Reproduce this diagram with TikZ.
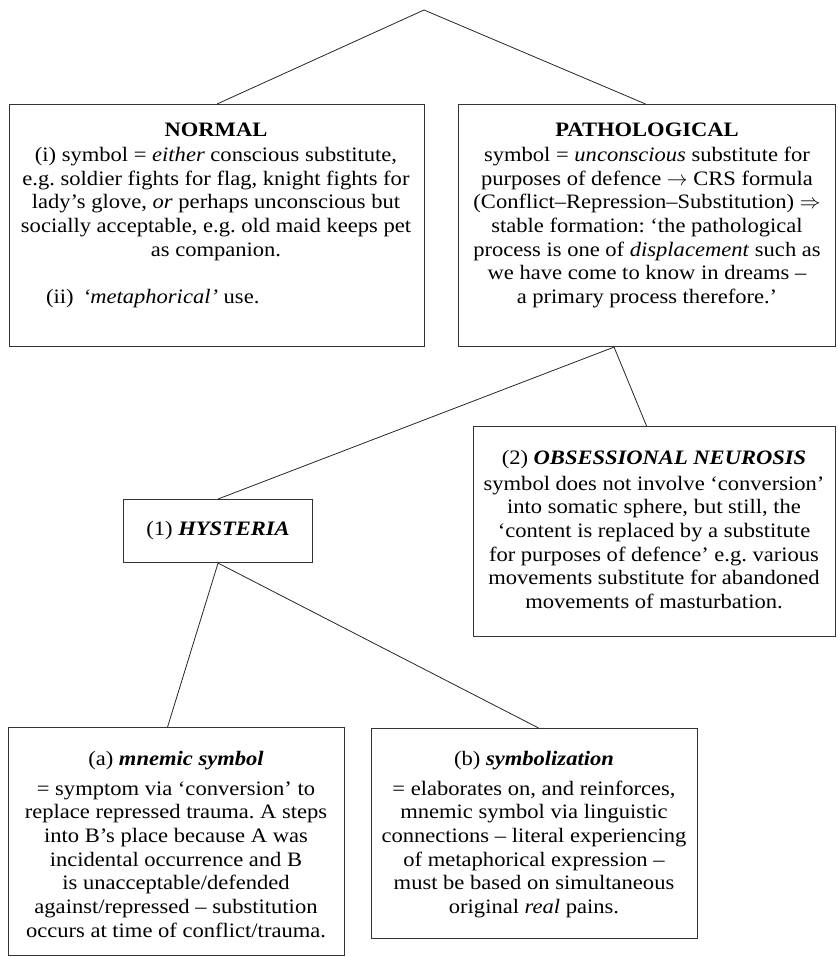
\documentclass[tikz,border=0pt]{standalone}
\usepackage{fontspec}
\setmainfont{Liberation Serif}[FakeStretch=1.1]
\frenchspacing
\begin{document}
\begin{tikzpicture}[x=1pt,y=-1pt,
  box/.style={draw=black!80, line width=1.1pt, inner sep=0pt, anchor=north west},
  link/.style={draw=black!85, line width=0.8pt},
  txt/.style={font=\fontsize{20.5}{23.7}\selectfont, align=center, inner sep=0pt, anchor=north}]
\useasboundingbox (0,0) rectangle (837,957);
% boxes
\node[box, minimum width=415, minimum height=242] (normal) at (9,104) {};
\node[box, minimum width=377, minimum height=242] (patho) at (458,104) {};
\node[box, minimum width=189, minimum height=63] (hyst) at (123,499) {};
\node[box, minimum width=362, minimum height=210] (obs) at (473,426) {};
\node[box, minimum width=336, minimum height=228] (mnem) at (8,727) {};
\node[box, minimum width=326, minimum height=210] (symb) at (371,728) {};
% texts
\node[txt] (normaltxt) at (216,123) {\textbf{NORMAL}\\[1pt]
(i) symbol = \emph{either} conscious substitute,\\
e.g. soldier fights for flag, knight fights for\\
lady’s glove, \emph{or} perhaps unconscious but\\
socially acceptable, e.g. old maid keeps pet\\
as companion.};
\node[txt, anchor=base west] (normalii) at (46,303) {(ii)\, \emph{‘metaphorical’} use.};
\node[txt] (pathotxt) at (647,123) {\textbf{PATHOLOGICAL}\\[1pt]
symbol = \emph{unconscious} substitute for\\
purposes of defence $\rightarrow$ CRS formula\\
(Conflict–Repression–Substitution) $\Rightarrow$\\
stable formation: ‘the pathological\\
process is one of \emph{displacement} such as\\
we have come to know in dreams –\\
a primary process therefore.’};
\node[txt, anchor=center] (hysttxt) at (hyst.center) {(1) \textbf{\textit{HYSTERIA}}};
\node[txt] (obstxt) at (654,450) {(2) \textbf{\textit{OBSESSIONAL NEUROSIS}}\\[2pt]
symbol does not involve ‘conversion’\\
into somatic sphere, but still, the\\
‘content is replaced by a substitute\\
for purposes of defence’ e.g. various\\
movements substitute for abandoned\\
movements of masturbation.};
\node[txt] (mnemtxt) at (176,751) {(a) \textbf{\textit{mnemic symbol}}\\[6pt]
= symptom via ‘conversion’ to\\
replace repressed trauma. A steps\\
into B’s place because A was\\
incidental occurrence and B\\
is unacceptable/defended\\
against/repressed – substitution\\
occurs at time of conflict/trauma.};
\node[txt] (symbtxt) at (534,751) {(b) \textbf{\textit{symbolization}}\\[6pt]
= elaborates on, and reinforces,\\
mnemic symbol via linguistic\\
connections – literal experiencing\\
of metaphorical expression –\\
must be based on simultaneous\\
original \emph{real} pains.};
% connectors
\coordinate (apex) at (424,10);
\draw[link] (apex) -- (normal.north);
\draw[link] (apex) -- ([xshift=-1.5pt]patho.north);
\draw[link] ([xshift=-33pt]patho.south) -- (hyst.north);
\draw[link] ([xshift=-33pt]patho.south) -- ([xshift=-8pt]obs.north);
\draw[link] (hyst.south) -- ([xshift=-9pt]mnem.north);
\draw[link] (hyst.south) -- ([xshift=4pt]symb.north);
\end{tikzpicture}
\end{document}
